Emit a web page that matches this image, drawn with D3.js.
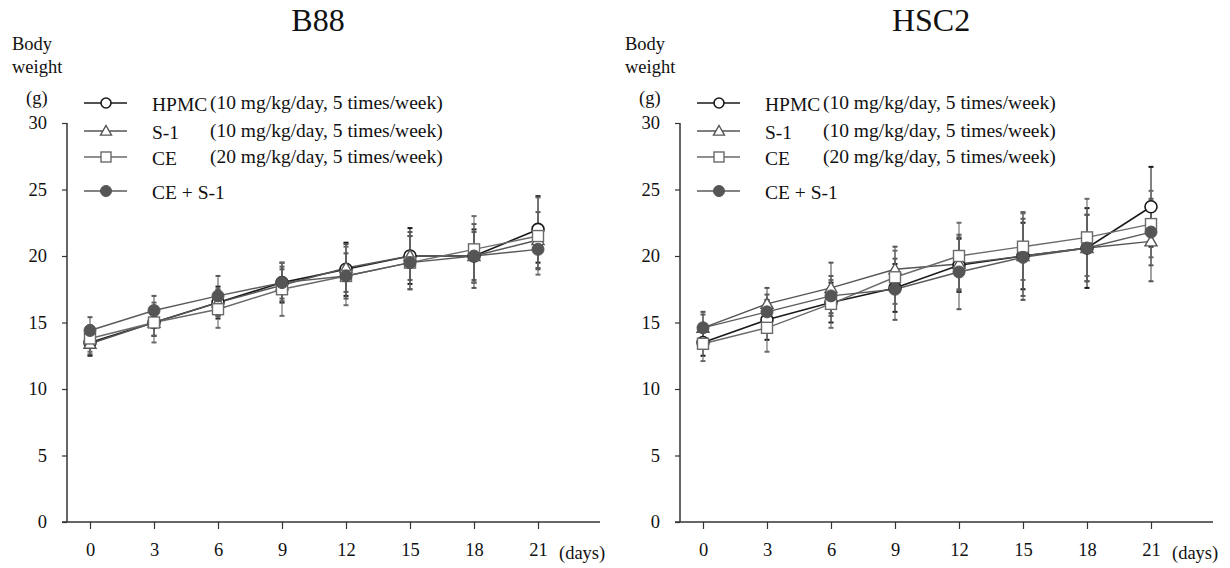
<!DOCTYPE html>
<html>
<head>
<meta charset="utf-8">
<script src="https://cdn.jsdelivr.net/npm/d3@7/dist/d3.min.js"></script>
<style>
  html, body { margin: 0; padding: 0; background: #fff; }
  svg { display: block; font-family: "Liberation Serif", "Times New Roman", serif; }
</style>
</head>
<body>
<svg id="chart" width="1230" height="568"></svg>
<script>
// ---------- DATA ----------
const days = [0, 3, 6, 9, 12, 15, 18, 21];
const yTicks = [0, 5, 10, 15, 20, 25, 30];
const seriesNames = ["HPMC", "S-1", "CE", "CE + S-1"];
const seriesDoses = ["(10 mg/kg/day, 5 times/week)", "(10 mg/kg/day, 5 times/week)", "(20 mg/kg/day, 5 times/week)", ""];
const panelTitles = ["B88", "HSC2"];

// B88 means
const b88HPMC = [13.5, 15.0, 16.5, 18.0, 19.0, 20.0, 20.0, 22.0];
const b88S1   = [13.4, 15.0, 16.5, 17.8, 19.1, 20.0, 20.0, 21.2];
const b88CE   = [13.8, 15.0, 16.0, 17.5, 18.5, 19.5, 20.5, 21.5];
const b88CES1 = [14.4, 15.9, 17.0, 18.0, 18.5, 19.5, 20.0, 20.5];
// B88 SD
const b88HPMCsd = [1.0, 1.0, 1.2, 1.5, 2.0, 2.1, 2.0, 2.5];
const b88S1sd   = [0.8, 1.0, 1.0, 1.2, 1.8, 1.8, 2.4, 2.1];
const b88CEsd   = [1.0, 1.5, 1.4, 2.0, 2.2, 2.0, 2.5, 2.9];
const b88CES1sd = [1.0, 1.1, 1.5, 1.2, 1.7, 2.0, 1.8, 1.5];

// HSC2 means
const hscHPMC = [13.5, 15.2, 16.5, 17.6, 19.3, 20.0, 20.6, 23.7];
const hscS1   = [14.6, 16.4, 17.6, 19.0, 19.4, 20.0, 20.6, 21.1];
const hscCE   = [13.4, 14.6, 16.4, 18.4, 20.0, 20.7, 21.4, 22.4];
const hscCES1 = [14.6, 15.8, 17.0, 17.5, 18.8, 19.9, 20.6, 21.8];
// HSC2 SD
const hscHPMCsd = [1.0, 1.5, 1.5, 1.8, 2.0, 2.5, 3.0, 3.0];
const hscS1sd   = [1.2, 1.2, 1.9, 1.7, 2.0, 3.3, 2.5, 3.0];
const hscCEsd   = [1.3, 1.8, 1.8, 2.0, 2.5, 2.5, 2.9, 2.5];
const hscCES1sd = [1.0, 1.3, 1.5, 2.3, 2.8, 2.9, 2.5, 2.5];

// ---------- STYLE ----------
const styles = [
  { stroke: "#1a1a1a", marker: "circle",   fill: "#fff", lw: 1.6 },
  { stroke: "#555",    marker: "triangle", fill: "#fff", lw: 1.4 },
  { stroke: "#6a6a6a", marker: "square",   fill: "#fff", lw: 1.4 },
  { stroke: "#5a5a5a", marker: "dot",      fill: "#555", lw: 1.4 }
];

const panels = [
  { title: panelTitles[0], ox: 0,   means: [b88HPMC, b88S1, b88CE, b88CES1], sds: [b88HPMCsd, b88S1sd, b88CEsd, b88CES1sd] },
  { title: panelTitles[1], ox: 613, means: [hscHPMC, hscS1, hscCE, hscCES1], sds: [hscHPMCsd, hscS1sd, hscCEsd, hscCES1sd] }
];

const svg = d3.select("#chart");

function drawMarker(g, type, x, y, st, s) {
  if (type === "circle") {
    g.append("circle").attr("cx", x).attr("cy", y).attr("r", s)
      .attr("fill", "#fff").attr("stroke", st.stroke).attr("stroke-width", 1.6);
  } else if (type === "dot") {
    g.append("circle").attr("cx", x).attr("cy", y).attr("r", s)
      .attr("fill", st.fill).attr("stroke", st.fill).attr("stroke-width", 1);
  } else if (type === "square") {
    g.append("rect").attr("x", x - s).attr("y", y - s).attr("width", 2 * s).attr("height", 2 * s)
      .attr("fill", "#fff").attr("stroke", st.stroke).attr("stroke-width", 1.4);
  } else if (type === "triangle") {
    const h = s * 1.1;
    g.append("path").attr("d", `M${x},${y - h}L${x + h},${y + h * 0.75}L${x - h},${y + h * 0.75}Z`)
      .attr("fill", "#fff").attr("stroke", st.stroke).attr("stroke-width", 1.4);
  }
}

panels.forEach(p => {
  const g = svg.append("g").attr("transform", `translate(${p.ox},0)`);
  const axisX = 67, axisEnd = 600;
  const x = d3.scaleLinear().domain([0, 21]).range([90, 538]);
  const y = d3.scaleLinear().domain([0, 30]).range([522, 123]);

  // title
  g.append("text").attr("x", 318).attr("y", 31).attr("text-anchor", "middle")
    .attr("font-size", 32).attr("fill", "#111").text(p.title);
  // y label
  g.append("text").attr("x", 12).attr("y", 50).attr("font-size", 18.5).attr("fill", "#111").text("Body");
  g.append("text").attr("x", 12).attr("y", 73).attr("font-size", 18.5).attr("fill", "#111").text("weight");
  g.append("text").attr("x", 26).attr("y", 104).attr("font-size", 18.5).attr("fill", "#111").text("(g)");

  // y axis
  const yAxis = d3.axisLeft(y).tickValues(yTicks).tickSize(5).tickPadding(15).tickFormat(d3.format("d"));
  const ya = g.append("g").attr("transform", `translate(${axisX},0)`).call(yAxis);
  ya.select(".domain").attr("d", `M0,${y(30)}V${y(0)}`).attr("stroke", "#333").attr("stroke-width", 1.5);
  ya.selectAll(".tick line").attr("stroke", "#333").attr("stroke-width", 1.2);
  ya.selectAll(".tick text").attr("font-size", 18.5).attr("fill", "#111")
    .attr("font-family", "Liberation Serif, serif");

  // x axis
  const xAxis = d3.axisBottom(x).tickValues(days).tickSize(7).tickPadding(14).tickFormat(d3.format("d"));
  const xa = g.append("g").attr("transform", `translate(0,${y(0)})`).call(xAxis);
  xa.select(".domain").attr("d", `M${axisX - 5},0H${axisEnd}`).attr("stroke", "#333").attr("stroke-width", 1.5);
  xa.selectAll(".tick line").attr("stroke", "#333").attr("stroke-width", 1.2);
  xa.selectAll(".tick text").attr("font-size", 18.5).attr("fill", "#111")
    .attr("font-family", "Liberation Serif, serif");
  g.append("text").attr("x", 559).attr("y", y(0) + 37).attr("font-size", 18.5).attr("fill", "#111").text("(days)");

  const line = d3.line().x((d, i) => x(days[i])).y(d => y(d));

  // lines
  p.means.forEach((m, si) => {
    g.append("path").attr("d", line(m)).attr("fill", "none")
      .attr("stroke", styles[si].stroke).attr("stroke-width", styles[si].lw);
  });
  // error bars
  p.means.forEach((m, si) => {
    m.forEach((v, i) => {
      const sd = p.sds[si][i];
      const cx = x(days[i]);
      g.append("line").attr("x1", cx).attr("x2", cx).attr("y1", y(v - sd)).attr("y2", y(v + sd))
        .attr("stroke", styles[si].stroke).attr("stroke-width", 1.1);
      [v - sd, v + sd].forEach(e => {
        g.append("line").attr("x1", cx - 2.5).attr("x2", cx + 2.5).attr("y1", y(e)).attr("y2", y(e))
          .attr("stroke", styles[si].stroke).attr("stroke-width", 2);
      });
    });
  });
  // markers
  p.means.forEach((m, si) => {
    m.forEach((v, i) => {
      const sz = styles[si].marker === "circle" ? 6 : (styles[si].marker === "dot" ? 6 : 5.5);
      drawMarker(g, styles[si].marker, x(days[i]), y(v), styles[si], sz);
    });
  });

  // legend
  const legY = [103, 131, 157, 191];
  seriesNames.forEach((name, si) => {
    const ly = legY[si];
    g.append("line").attr("x1", 84).attr("x2", 127).attr("y1", ly).attr("y2", ly)
      .attr("stroke", styles[si].stroke).attr("stroke-width", 1.5);
    drawMarker(g, styles[si].marker, 106, ly, styles[si], styles[si].marker === "dot" ? 5.5 : 5);
    g.append("text").attr("x", 152).attr("y", ly + 8).attr("font-size", 19.5).attr("fill", "#111").text(name);
    if (seriesDoses[si]) {
      g.append("text").attr("x", 210).attr("y", ly + 6).attr("font-size", 19.5).attr("fill", "#111").text(seriesDoses[si]);
    }
  });
});
</script>
</body>
</html>
